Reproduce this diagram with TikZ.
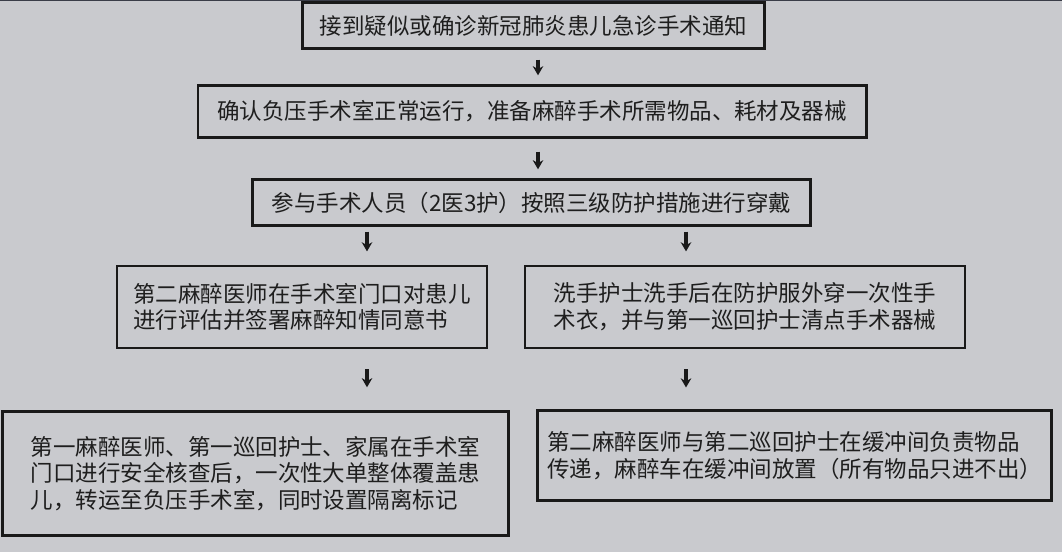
\documentclass[tikz,border=0pt]{standalone}
\usepackage{fontspec}
\newfontfamily\cjk{Noto Sans CJK SC}
\usetikzlibrary{arrows.meta}
\definecolor{bggray}{HTML}{C9CACE}
\definecolor{ink}{HTML}{1E1E1E}
\definecolor{topband}{HTML}{3A3D48}
\begin{document}
\begin{tikzpicture}[x=0.025cm,y=-0.025cm]
	\useasboundingbox (0,0) rectangle (1062,552);
	\fill[bggray] (0,0) rectangle (1062,552);
	\fill[topband] (0,0) rectangle (1062,1.5);
	
	\coordinate (midcol) at (538,0);
	\coordinate (leftcol) at (367,0);
	\coordinate (rightcol) at (686,0);
	
	\begin{scope}[every node/.style={rectangle,draw=black!90,line width=2pt,inner sep=0pt,text=ink,align=left,font=\cjk\fontsize{16pt}{19pt}\selectfont}]
		\node[minimum width=11.53cm,minimum height=1.13cm] (notice) at (533.5,25.5) {接到疑似或确诊新冠肺炎患儿急诊手术通知};
		\node[minimum width=16.7cm,minimum height=1.28cm] (check) at (532,111.5) {确认负压手术室正常运行，准备麻醉手术所需物品、耗材及器械};
		\node[minimum width=13.93cm,minimum height=1.13cm] (dress) at (531.5,202.5) {参与手术人员（2医3护）按照三级防护措施进行穿戴};
		\node[minimum width=9.25cm,minimum height=2.05cm] (assess) at (302,307) {第二麻醉医师在手术室门口对患儿\\进行评估并签署麻醉知情同意书};
		\node[minimum width=11cm,minimum height=2.05cm] (scrub) at (745,307) {洗手护士洗手后在防护服外穿一次性手\\术衣，并与第一巡回护士清点手术器械};
		\node[minimum width=12.63cm,minimum height=3.08cm] (transfer) at (255.5,473.5) {第一麻醉医师、第一巡回护士、家属在手术室\\门口进行安全核查后，一次性大单整体覆盖患\\儿，转运至负压手术室，同时设置隔离标记};
		\node[minimum width=12.83cm,minimum height=2.23cm] (relay) at (794.5,455.5) {第二麻醉医师与第二巡回护士在缓冲间负责物品\\传递，麻醉车在缓冲间放置（所有物品只进不出）};
	\end{scope}
	
	\begin{scope}[line width=2.6pt,draw=black!90,-{Stealth[length=6.5pt,width=7.5pt]}]
		\path (notice.south -| midcol) edge[shorten <=0.25cm,shorten >=0.23cm] (check.north -| midcol);
		\path (check.south -| midcol) edge[shorten <=0.33cm,shorten >=0.23cm] (dress.north -| midcol);
		\path (dress.south -| leftcol) edge[shorten <=0.13cm,shorten >=0.33cm] (assess.north -| leftcol);
		\path (dress.south -| rightcol) edge[shorten <=0.13cm,shorten >=0.33cm] (scrub.north -| rightcol);
		\path (assess.south -| leftcol) edge[shorten <=0.5cm,shorten >=0.58cm] (transfer.north -| leftcol);
		\path (scrub.south -| rightcol) edge[shorten <=0.5cm,shorten >=0.55cm] (relay.north -| rightcol);
	\end{scope}
\end{tikzpicture}
\end{document}
